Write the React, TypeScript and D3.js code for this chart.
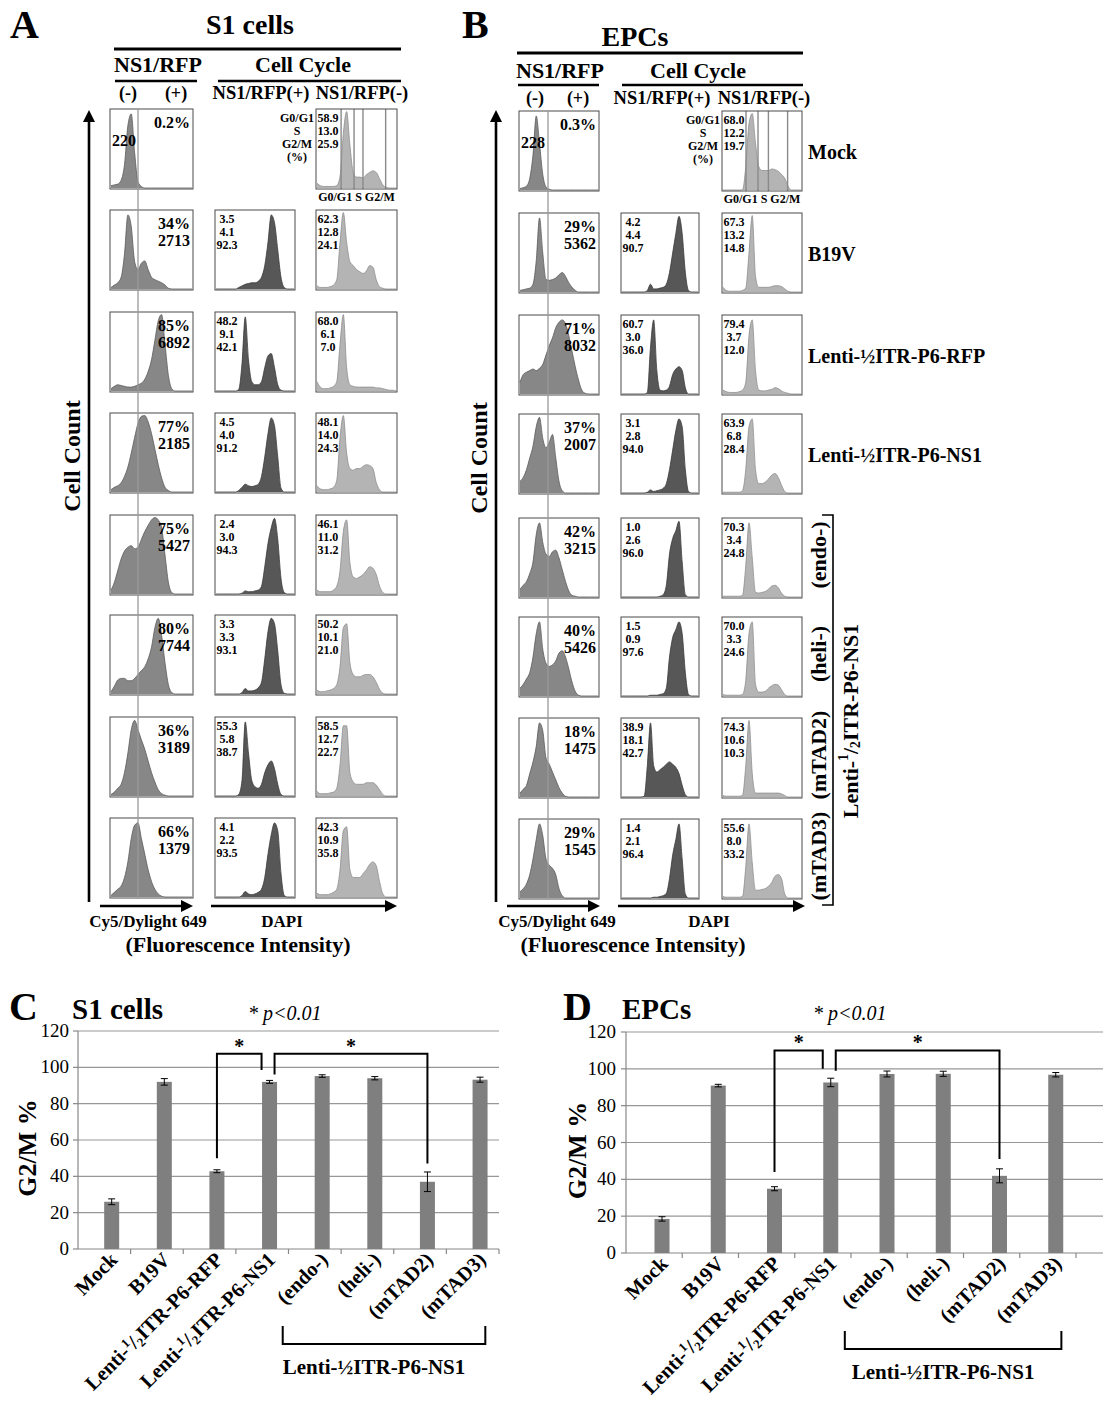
import React from 'react';
import * as d3 from 'd3';

// ---------------- DATA ----------------
// Flow cytometry panels (A: S1 cells, B: EPCs). Histogram heights (fraction of box height)
// at 25 evenly spaced fluorescence bins.
const A_pct = ['0.2%', '34%', '85%', '77%', '75%', '80%', '36%', '66%'];
const A_cnt = ['220', '2713', '6892', '2185', '5427', '7744', '3189', '1379'];
const B_pct = ['0.3%', '29%', '71%', '37%', '42%', '40%', '18%', '29%'];
const B_cnt = ['228', '5362', '8032', '2007', '3215', '5426', '1475', '1545'];

const A_posPhase: (number[] | null)[] = [null, [3.5, 4.1, 92.3], [48.2, 9.1, 42.1], [4.5, 4.0, 91.2], [2.4, 3.0, 94.3], [3.3, 3.3, 93.1], [55.3, 5.8, 38.7], [4.1, 2.2, 93.5]];
const A_negPhase: number[][] = [[58.9, 13.0, 25.9], [62.3, 12.8, 24.1], [68.0, 6.1, 7.0], [48.1, 14.0, 24.3], [46.1, 11.0, 31.2], [50.2, 10.1, 21.0], [58.5, 12.7, 22.7], [42.3, 10.9, 35.8]];
const B_posPhase: (number[] | null)[] = [null, [4.2, 4.4, 90.7], [60.7, 3.0, 36.0], [3.1, 2.8, 94.0], [1.0, 2.6, 96.0], [1.5, 0.9, 97.6], [38.9, 18.1, 42.7], [1.4, 2.1, 96.4]];
const B_negPhase: number[][] = [[68.0, 12.2, 19.7], [67.3, 13.2, 14.8], [79.4, 3.7, 12.0], [63.9, 6.8, 28.4], [70.3, 3.4, 24.8], [70.0, 3.3, 24.6], [74.3, 10.6, 10.3], [55.6, 8.0, 33.2]];

const A_cy5: number[][] = [
  [.03, .04, .05, .1, .3, .8, .95, .45, .08, .02, 0, 0, 0, 0, 0, 0, 0, 0, 0, 0, 0, 0, 0, 0, 0],
  [.02, .05, .08, .15, .45, .95, .8, .35, .25, .33, .36, .25, .15, .12, .1, .08, .05, .01, 0, 0, 0, 0, 0, 0, 0],
  [.03, .06, .08, .07, .06, .05, .05, .06, .08, .1, .15, .25, .4, .65, .9, .98, .6, .2, .03, 0, 0, 0, 0, 0, 0],
  [.03, .06, .08, .12, .2, .32, .5, .7, .88, .97, .98, .9, .75, .55, .35, .18, .06, .02, 0, 0, 0, 0, 0, 0, 0],
  [.05, .15, .3, .45, .55, .6, .62, .58, .6, .7, .8, .88, .95, .98, .95, .85, .5, .15, .02, 0, 0, 0, 0, 0, 0],
  [.03, .1, .18, .2, .2, .17, .17, .2, .25, .3, .35, .45, .6, .85, .97, .75, .4, .12, .02, 0, 0, 0, 0, 0, 0],
  [.02, .05, .1, .15, .3, .55, .85, .97, .85, .72, .6, .45, .3, .18, .08, .03, .01, 0, 0, 0, 0, 0, 0, 0, 0],
  [.02, .06, .1, .14, .25, .45, .75, .92, .95, .75, .55, .35, .2, .1, .04, .01, 0, 0, 0, 0, 0, 0, 0, 0, 0],
];
const A_dapiPos: (number[] | null)[] = [
  null,
  [0, 0, 0, 0, 0, 0, 0, .02, .04, .06, .07, .08, .08, .1, .15, .3, .6, .95, .85, .5, .15, .02, 0, 0, 0],
  [0, 0, 0, 0, 0, 0, 0, .02, .35, .95, .4, .12, .08, .08, .12, .3, .45, .48, .3, .08, .01, 0, 0, 0, 0],
  [0, 0, 0, 0, 0, 0, 0, .02, .06, .1, .08, .07, .08, .1, .2, .45, .75, .95, .85, .45, .05, 0, 0, 0, 0],
  [0, 0, 0, 0, 0, 0, 0, 0, .01, .04, .03, .03, .04, .05, .1, .35, .65, .85, .97, .7, .2, .02, 0, 0, 0],
  [0, 0, 0, 0, 0, 0, 0, 0, .02, .07, .04, .04, .05, .08, .15, .45, .8, .97, .9, .55, .12, .01, 0, 0, 0],
  [0, 0, 0, 0, 0, 0, 0, .02, .2, .95, .55, .2, .12, .1, .15, .3, .4, .45, .35, .15, .02, 0, 0, 0, 0],
  [0, 0, 0, 0, 0, 0, 0, 0, .02, .07, .04, .03, .04, .06, .1, .25, .55, .8, .95, .85, .3, .02, 0, 0, 0],
];
const A_dapiNeg: number[][] = [
  [.06, .03, .02, .02, .02, .02, .03, .15, .7, .98, .55, .2, .14, .14, .13, .17, .2, .22, .2, .12, .04, .01, 0, 0, 0],
  [.04, .02, .02, .02, .03, .05, .12, .6, .98, .6, .35, .3, .25, .22, .2, .23, .3, .28, .12, .03, .01, 0, 0, 0, 0],
  [.12, .05, .03, .03, .04, .06, .12, .6, .98, .3, .08, .06, .05, .05, .05, .05, .05, .05, .04, .04, .03, .02, .01, .01, 0],
  [.08, .04, .03, .03, .04, .06, .15, .7, .98, .5, .3, .28, .3, .3, .33, .35, .34, .3, .12, .03, 0, 0, 0, 0, 0],
  [.05, .03, .03, .03, .03, .05, .1, .3, .8, .95, .4, .22, .2, .22, .25, .3, .35, .33, .25, .1, .02, 0, 0, 0, 0],
  [.05, .03, .03, .04, .05, .07, .12, .35, .85, .9, .4, .25, .22, .22, .24, .25, .25, .22, .15, .06, .01, 0, 0, 0, 0],
  [.06, .03, .03, .03, .04, .05, .1, .4, .9, .9, .3, .18, .15, .15, .15, .17, .17, .17, .14, .08, .02, 0, 0, 0, 0],
  [.05, .03, .03, .03, .04, .06, .1, .35, .85, .9, .35, .25, .25, .25, .3, .35, .42, .45, .4, .2, .04, 0, 0, 0, 0],
];
const B_cy5: number[][] = [
  [.02, .03, .05, .15, .45, .95, .6, .2, .04, .01, 0, 0, 0, 0, 0, 0, 0, 0, 0, 0, 0, 0, 0, 0, 0],
  [.02, .03, .04, .05, .1, .4, .95, .5, .16, .15, .16, .18, .22, .25, .2, .12, .06, .02, 0, 0, 0, 0, 0, 0, 0],
  [.15, .25, .28, .3, .32, .3, .33, .38, .5, .62, .72, .85, .92, .95, .9, .75, .55, .35, .18, .05, .01, 0, 0, 0, 0],
  [.15, .2, .3, .45, .6, .85, .97, .7, .58, .65, .75, .45, .15, .03, 0, 0, 0, 0, 0, 0, 0, 0, 0, 0, 0],
  [.1, .15, .2, .3, .45, .8, .95, .7, .55, .52, .58, .6, .5, .35, .2, .08, .02, .01, 0, 0, 0, 0, 0, 0, 0],
  [.1, .15, .22, .3, .5, .8, .95, .6, .42, .38, .4, .45, .55, .58, .5, .35, .18, .06, .01, 0, 0, 0, 0, 0, 0],
  [.05, .1, .15, .3, .45, .65, .95, .85, .5, .42, .32, .22, .12, .05, .01, 0, 0, 0, 0, 0, 0, 0, 0, 0, 0],
  [.08, .12, .18, .3, .5, .75, .95, .8, .5, .42, .38, .3, .12, .03, 0, 0, 0, 0, 0, 0, 0, 0, 0, 0, 0],
];
const B_dapiPos: (number[] | null)[] = [
  null,
  [0, 0, 0, 0, 0, 0, 0, 0, .02, .1, .04, .04, .05, .06, .1, .25, .5, .75, .97, .75, .25, .02, 0, 0, 0],
  [0, 0, 0, 0, 0, 0, 0, 0, .02, .6, .95, .3, .05, .04, .05, .1, .25, .32, .35, .3, .08, 0, 0, 0, 0],
  [0, 0, 0, 0, 0, 0, 0, 0, .01, .04, .02, .03, .04, .06, .12, .3, .55, .8, .95, .85, .3, .02, 0, 0, 0],
  [0, 0, 0, 0, 0, 0, 0, 0, 0, 0, 0, 0, .01, .03, .15, .55, .75, .85, .97, .45, .03, 0, 0, 0, 0],
  [0, 0, 0, 0, 0, 0, 0, 0, 0, .01, .01, .01, .02, .03, .1, .5, .75, .85, .95, .8, .3, .02, 0, 0, 0],
  [0, 0, 0, 0, 0, 0, 0, .01, .4, .95, .4, .32, .35, .38, .42, .45, .42, .38, .3, .15, .03, 0, 0, 0, 0],
  [0, 0, 0, 0, 0, 0, 0, 0, 0, 0, .01, .01, .02, .03, .06, .25, .55, .75, .95, .5, .05, 0, 0, 0, 0],
];
const B_dapiNeg: number[][] = [
  [0, 0, 0, 0, 0, 0, 0, .3, .85, .98, .6, .3, .25, .25, .25, .27, .26, .24, .2, .15, .05, 0, 0, 0, 0],
  [.06, .02, .01, .01, .01, .01, .02, .05, .5, .98, .2, .06, .06, .06, .06, .07, .08, .08, .07, .04, .01, 0, 0, 0, 0],
  [.05, .03, .02, .02, .02, .03, .05, .15, .75, .95, .3, .05, .04, .04, .05, .06, .08, .07, .04, .02, .01, 0, 0, 0, 0],
  [.01, .01, .01, .01, .01, .01, .03, .3, .85, .95, .3, .12, .12, .14, .18, .23, .25, .2, .1, .02, 0, 0, 0, 0, 0],
  [.01, .01, .01, .01, .01, .01, .02, .4, .95, .5, .06, .05, .06, .07, .1, .14, .15, .12, .05, .01, 0, 0, 0, 0, 0],
  [.02, .01, .01, .01, .01, .01, .02, .2, .8, .95, .15, .05, .05, .06, .1, .13, .15, .14, .08, .02, 0, 0, 0, 0, 0],
  [.02, .01, .01, .01, .01, .01, .02, .4, .98, .3, .05, .05, .05, .05, .05, .05, .05, .05, .04, .02, 0, 0, 0, 0, 0],
  [.02, .01, .01, .01, .01, .01, .02, .4, .95, .45, .1, .1, .11, .12, .15, .2, .28, .3, .25, .05, 0, 0, 0, 0, 0],
];
// cell-cycle gates on the mock NS1/RFP(-) histogram (fraction of DAPI axis)
const A_gates = [0.31, 0.47, 0.58, 0.86];
const B_gates = [0.30, 0.45, 0.58, 0.82];
const phaseNames = ['G0/G1', 'S', 'G2/M', '(%)'];
const B_rowNames = ['Mock', 'B19V', 'Lenti-½ITR-P6-RFP', 'Lenti-½ITR-P6-NS1'];
const mutantNames = ['(endo-)', '(heli-)', '(mTAD2)', '(mTAD3)'];
const groupName = 'Lenti-½ITR-P6-NS1';

// Bar charts (C: S1 cells, D: EPCs) — G2/M %
const categories = ['Mock', 'B19V', 'Lenti-½ITR-P6-RFP', 'Lenti-½ITR-P6-NS1', '(endo-)', '(heli-)', '(mTAD2)', '(mTAD3)'];
const C_values = [26, 92, 42.8, 92, 95.2, 94, 37, 93.2];
const C_errors = [1.6, 1.8, 0.8, 0.8, 0.7, 0.9, 5.4, 1.4];
const D_values = [18.5, 90.9, 34.9, 92.6, 97.2, 97.3, 41.9, 96.8];
const D_errors = [1.2, 0.7, 1.1, 2.3, 1.6, 1.4, 3.8, 1.2];
const yTicks = [0, 20, 40, 60, 80, 100, 120];
// significance brackets: [left category, right category, left-leg start, right-leg end, top]
const C_sig: [number, number, number, number, number][] = [[2, 3, 50, 98.5, 107.5], [3, 6, 96, 47, 107.5]];
const D_sig: [number, number, number, number, number][] = [[2, 3, 44, 100, 110], [3, 6, 99, 51, 110]];

// ---------------- LAYOUT / STYLE ----------------
const FONT = "'Liberation Serif','Times New Roman',Times,serif";
const BOX_H = 80;
const GRID_A = { letter: 'A', letterX: 10, title: 'S1 cells', titleX: 250, titleY: 34, topLine: [114, 401, 49],
  hdrY: 72, nsX: 158, ccX: 303, subY: 81, nsLine: [115, 197], ccLine: [218, 401], pmY: 99, minusX: 128, plusX: 176,
  posX: 261, negX: 362, cols: [[110, 83], [215, 80], [316, 81]], rows: [109, 210, 312, 413, 515, 615, 717, 818],
  gateX: 138, axisX: 89, axisTop: 110, axisBot: 902, ccLabelX: 74, ccLabelY: 456, phaseX: 297,
  arrowY: 906, arr1: [100, 193], arr2: [211, 397], cyX: 148, dapiX: 282, fiX: 238 };
const GRID_B = { letter: 'B', letterX: 462, title: 'EPCs', titleX: 635, titleY: 46, topLine: [517, 803, 53],
  hdrY: 78, nsX: 560, ccX: 698, subY: 85, nsLine: [518, 599], ccLine: [622, 803], pmY: 104, minusX: 535, plusX: 578,
  posX: 662, negX: 764, cols: [[519, 80], [621, 78], [722, 80]], rows: [111, 213, 315, 414, 518, 617, 718, 819],
  gateX: 548, axisX: 496, axisTop: 110, axisBot: 902, ccLabelX: 481, ccLabelY: 458, phaseX: 703,
  arrowY: 906, arr1: [507, 600], arr2: [618, 805], cyX: 557, dapiX: 709, fiX: 633 };

const COL_FILL = ['#878787', '#575757', '#b4b4b4'];
const COL_STROKE = ['#5a5a5a', '#3a3a3a', '#8e8e8e'];

// renders "½" as a superscript 1 / subscript 2 (as in the rotated labels of the figure)
function halfSpans(label: string, fs: number) {
  const parts = label.split('½');
  if (parts.length === 1) return label;
  const sup = fs * 0.36, sub = fs * 0.16;
  return [
    <tspan key="a">{parts[0]}</tspan>,
    <tspan key="b" dy={-sup} fontSize={fs * 0.62}>1</tspan>,
    <tspan key="c" dy={sup}>/</tspan>,
    <tspan key="d" dy={sub} fontSize={fs * 0.62}>2</tspan>,
    <tspan key="e" dy={-sub}>{parts[1]}</tspan>,
  ];
}

function Hist({ x, y, w, h, vals, fill, stroke }: any) {
  const xs = d3.scaleLinear().domain([0, vals.length - 1]).range([x + 1, x + w - 1]);
  const ys = d3.scaleLinear().domain([0, 1]).range([y + h - 1, y + 1]);
  const area = d3.area<number>().x((_, i) => xs(i)).y0(y + h - 1).y1(d => ys(d)).curve(d3.curveMonotoneX);
  const line = d3.line<number>().x((_, i) => xs(i)).y(d => ys(d)).curve(d3.curveMonotoneX);
  return (
    <g>
      <path d={area(vals) || ''} fill={fill} />
      <path d={line(vals) || ''} fill="none" stroke={stroke} strokeWidth={0.8} />
    </g>
  );
}

function ArrowV({ x, top, bot }: any) {
  return (
    <g>
      <line x1={x} x2={x} y1={top + 10} y2={bot} stroke="#000" strokeWidth={2.6} />
      <path d={`M${x - 6},${top + 12} L${x},${top} L${x + 6},${top + 12} Z`} fill="#000" />
    </g>
  );
}
function ArrowH({ x1, x2, y }: any) {
  return (
    <g>
      <line x1={x1} x2={x2 - 10} y1={y} y2={y} stroke="#000" strokeWidth={2.6} />
      <path d={`M${x2 - 12},${y - 6} L${x2},${y} L${x2 - 12},${y + 6} Z`} fill="#000" />
    </g>
  );
}

function FlowPanel({ g, pct, cnt, cy5, dpos, dneg, posPh, negPh, gates, rowNames }: any) {
  const [c1, c2, c3] = g.cols;
  return (
    <g fontFamily={FONT} fontWeight="bold">
      <text x={g.letterX} y={38} fontSize={40}>{g.letter}</text>
      <text x={g.titleX} y={g.titleY} fontSize={28} textAnchor="middle">{g.title}</text>
      <line x1={g.topLine[0]} x2={g.topLine[1]} y1={g.topLine[2]} y2={g.topLine[2]} stroke="#000" strokeWidth={3.2} />
      <text x={g.nsX} y={g.hdrY} fontSize={22} textAnchor="middle">NS1/RFP</text>
      <text x={g.ccX} y={g.hdrY} fontSize={22} textAnchor="middle">Cell Cycle</text>
      <line x1={g.nsLine[0]} x2={g.nsLine[1]} y1={g.subY} y2={g.subY} stroke="#000" strokeWidth={2.6} />
      <line x1={g.ccLine[0]} x2={g.ccLine[1]} y1={g.subY} y2={g.subY} stroke="#000" strokeWidth={2.6} />
      <text x={g.minusX} y={g.pmY} fontSize={18} textAnchor="middle">(-)</text>
      <text x={g.plusX} y={g.pmY} fontSize={18} textAnchor="middle">(+)</text>
      <text x={g.posX} y={g.pmY} fontSize={18.5} textAnchor="middle">NS1/RFP(+)</text>
      <text x={g.negX} y={g.pmY} fontSize={18.5} textAnchor="middle">NS1/RFP(-)</text>

      <ArrowV x={g.axisX} top={g.axisTop} bot={g.axisBot} />
      <text transform={`translate(${g.ccLabelX},${g.ccLabelY}) rotate(-90)`} fontSize={24} textAnchor="middle" dominantBaseline="middle">Cell Count</text>

      {g.rows.map((top: number, i: number) => (
        <g key={i}>
          <Hist x={c1[0]} y={top} w={c1[1]} h={BOX_H} vals={cy5[i]} fill={COL_FILL[0]} stroke={COL_STROKE[0]} />
          <rect x={c1[0]} y={top} width={c1[1]} height={BOX_H} fill="none" stroke="#4a4a4a" strokeWidth={1} />
          {i === 0 ? (
            <g fontSize={16}>
              <text x={c1[0] + c1[1] - 3} y={top + 19} textAnchor="end">{pct[i]}</text>
              <text x={c1[0] + 2} y={top + 37}>{cnt[i]}</text>
            </g>
          ) : (
            <g fontSize={16} textAnchor="end">
              <text x={c1[0] + c1[1] - 3} y={top + 19}>{pct[i]}</text>
              <text x={c1[0] + c1[1] - 3} y={top + 36}>{cnt[i]}</text>
            </g>
          )}
          {dpos[i] ? (
            <g>
              <Hist x={c2[0]} y={top} w={c2[1]} h={BOX_H} vals={dpos[i]} fill={COL_FILL[1]} stroke={COL_STROKE[1]} />
              <rect x={c2[0]} y={top} width={c2[1]} height={BOX_H} fill="none" stroke="#4a4a4a" strokeWidth={1} />
              {posPh[i].map((v: number, k: number) => (
                <text key={k} x={c2[0] + 12} y={top + 13 + k * 13} fontSize={12} textAnchor="middle">{v.toFixed(1)}</text>
              ))}
            </g>
          ) : (
            <g fontSize={12} textAnchor="middle">
              {phaseNames.map((p, k) => (
                <text key={k} x={g.phaseX} y={top + 13 + k * 13}>{p}</text>
              ))}
            </g>
          )}
          <Hist x={c3[0]} y={top} w={c3[1]} h={BOX_H} vals={dneg[i]} fill={COL_FILL[2]} stroke={COL_STROKE[2]} />
          {i === 0 && gates.map((f: number, k: number) => (
            <line key={k} x1={c3[0] + f * c3[1]} x2={c3[0] + f * c3[1]} y1={top} y2={top + BOX_H} stroke="#8a8a8a" strokeWidth={1.4} />
          ))}
          <rect x={c3[0]} y={top} width={c3[1]} height={BOX_H} fill="none" stroke="#4a4a4a" strokeWidth={1} />
          {negPh[i].map((v: number, k: number) => (
            <text key={k} x={c3[0] + 12} y={top + 13 + k * 13} fontSize={12} textAnchor="middle">{v.toFixed(1)}</text>
          ))}
          {i === 0 && (
            <text x={c3[0] + c3[1] / 2} y={top + BOX_H + 12} fontSize={12} textAnchor="middle">G0/G1 S G2/M</text>
          )}
          {rowNames && i < rowNames.length && (
            <text x={808} y={top + 48} fontSize={20}>{rowNames[i]}</text>
          )}
        </g>
      ))}
      <line x1={g.gateX} x2={g.gateX} y1={g.rows[0]} y2={g.rows[7] + BOX_H} stroke="#9a9a9a" strokeWidth={1.3} />

      <ArrowH x1={g.arr1[0]} x2={g.arr1[1]} y={g.arrowY} />
      <ArrowH x1={g.arr2[0]} x2={g.arr2[1]} y={g.arrowY} />
      <text x={g.cyX} y={927} fontSize={17} textAnchor="middle">Cy5/Dylight 649</text>
      <text x={g.dapiX} y={927} fontSize={17} textAnchor="middle">DAPI</text>
      <text x={g.fiX} y={952} fontSize={22} textAnchor="middle">(Fluorescence Intensity)</text>
    </g>
  );
}

function BarPanel({ letter, letterX, title, titleX, pX, x0, x1, gridRight, yBottom, yTop, values, errors, sig, ylabX, tickX, groupY }: any) {
  const y = d3.scaleLinear().domain([0, 120]).range([yBottom, yTop]);
  const x = d3.scaleBand<string>().domain(categories).range([x0, x1]).padding(0);
  const bw = x.bandwidth();
  const cx = (c: string) => (x(c) as number) + bw * 0.64;
  const barW = 15;
  const idx = (i: number) => cx(categories[i]);
  const XFS = 20.5;
  return (
    <g fontFamily={FONT}>
      <text x={letterX} y={1020} fontSize={40} fontWeight="bold">{letter}</text>
      <text x={titleX} y={1019} fontSize={29} fontWeight="bold">{title}</text>
      <text x={pX} y={1020} fontSize={20} fontStyle="italic">* p&lt;0.01</text>
      {yTicks.map(t => (
        <g key={t}>
          {t > 0 && <line x1={x0} x2={gridRight} y1={y(t)} y2={y(t)} stroke="#979797" strokeWidth={1.2} />}
          <line x1={x0 - 5} x2={x0} y1={y(t)} y2={y(t)} stroke="#888" strokeWidth={1.2} />
          <text x={tickX} y={y(t) + 6} fontSize={19} textAnchor="end">{t}</text>
        </g>
      ))}
      <line x1={x0} x2={x0} y1={yBottom} y2={y(120)} stroke="#888" strokeWidth={1.2} />
      <line x1={x0} x2={gridRight} y1={yBottom} y2={yBottom} stroke="#888" strokeWidth={1.2} />
      {categories.map(c => (
        <line key={c} x1={(x(c) as number) + bw} x2={(x(c) as number) + bw} y1={yBottom} y2={yBottom + 5} stroke="#888" strokeWidth={1.2} />
      ))}
      {categories.map((c, i) => (
        <g key={c}>
          <rect x={cx(c) - barW / 2} y={y(values[i])} width={barW} height={yBottom - y(values[i])} fill="#7f7f7f" />
          <line x1={cx(c)} x2={cx(c)} y1={y(values[i] + errors[i])} y2={y(values[i] - errors[i])} stroke="#000" strokeWidth={1} />
          <line x1={cx(c) - 3.5} x2={cx(c) + 3.5} y1={y(values[i] + errors[i])} y2={y(values[i] + errors[i])} stroke="#000" strokeWidth={1} />
          <line x1={cx(c) - 3.5} x2={cx(c) + 3.5} y1={y(values[i] - errors[i])} y2={y(values[i] - errors[i])} stroke="#000" strokeWidth={1} />
          <text transform={`translate(${cx(c) + 7},${yBottom + 12}) rotate(-45)`} fontSize={XFS} fontWeight="bold" textAnchor="end">{halfSpans(c, XFS)}</text>
        </g>
      ))}
      {sig.map(([a, b, ly, ry, top]: number[], k: number) => {
        const xa = k === 0 ? idx(a) : idx(a) + 5;
        const xb = k === 0 ? idx(b) - 8 : idx(b);
        return (
          <g key={k}>
            <path d={`M${xa},${y(ly)} L${xa},${y(top)} L${xb},${y(top)} L${xb},${y(ry)}`} fill="none" stroke="#000" strokeWidth={2} />
            <text x={(xa + xb) / 2} y={y(top) - 1} fontSize={20} fontWeight="bold" textAnchor="middle">*</text>
          </g>
        );
      })}
      <text transform={`translate(${ylabX},${(yBottom + yTop) / 2 + 8}) rotate(-90)`} fontSize={26} fontWeight="bold" textAnchor="middle" dominantBaseline="middle">G2/M %</text>
      {(() => {
        const l = idx(4) - bw * 0.75;
        const r = idx(7) + bw * 0.1;
        return (
          <g>
            <path d={`M${l},${groupY} L${l},${groupY + 18} L${r},${groupY + 18} L${r},${groupY}`} fill="none" stroke="#000" strokeWidth={2} />
            <text x={(l + r) / 2 - 10} y={groupY + 48} fontSize={21} fontWeight="bold" textAnchor="middle">{groupName}</text>
          </g>
        );
      })()}
    </g>
  );
}

export default function App() {
  return (
    <svg width={1103} height={1409} viewBox="0 0 1103 1409" style={{ position: 'absolute', left: 0, top: 0, display: 'block' }}>
      <rect width={1103} height={1409} fill="#fff" />
      <FlowPanel g={GRID_A} pct={A_pct} cnt={A_cnt} cy5={A_cy5} dpos={A_dapiPos} dneg={A_dapiNeg} posPh={A_posPhase} negPh={A_negPhase} gates={A_gates} rowNames={null} />
      <FlowPanel g={GRID_B} pct={B_pct} cnt={B_cnt} cy5={B_cy5} dpos={B_dapiPos} dneg={B_dapiNeg} posPh={B_posPhase} negPh={B_negPhase} gates={B_gates} rowNames={B_rowNames} />
      {/* mutant labels and bracket for panel B */}
      <g fontFamily={FONT} fontWeight="bold">
        {mutantNames.map((m, i) => (
          <text key={m} transform={`translate(${821},${GRID_B.rows[i + 4] + 37}) rotate(-90)`} fontSize={22} textAnchor="middle" dominantBaseline="middle">{m}</text>
        ))}
        <path d="M822,515 L833,515 L833,905 L822,905" fill="none" stroke="#000" strokeWidth={1.6} />
        <text transform="translate(853,721) rotate(-90)" fontSize={22} textAnchor="middle" dominantBaseline="middle">{halfSpans(groupName, 22)}</text>
      </g>
      <BarPanel letter="C" letterX={9} title="S1 cells" titleX={72} pX={248} x0={78} x1={499} gridRight={499} yBottom={1249} yTop={1031}
        values={C_values} errors={C_errors} sig={C_sig} ylabX={30} tickX={69} groupY={1326} />
      <BarPanel letter="D" letterX={563} title="EPCs" titleX={622} pX={813} x0={626} x1={1076} gridRight={1103} yBottom={1253} yTop={1032}
        values={D_values} errors={D_errors} sig={D_sig} ylabX={580} tickX={616} groupY={1331} />
    </svg>
  );
}
